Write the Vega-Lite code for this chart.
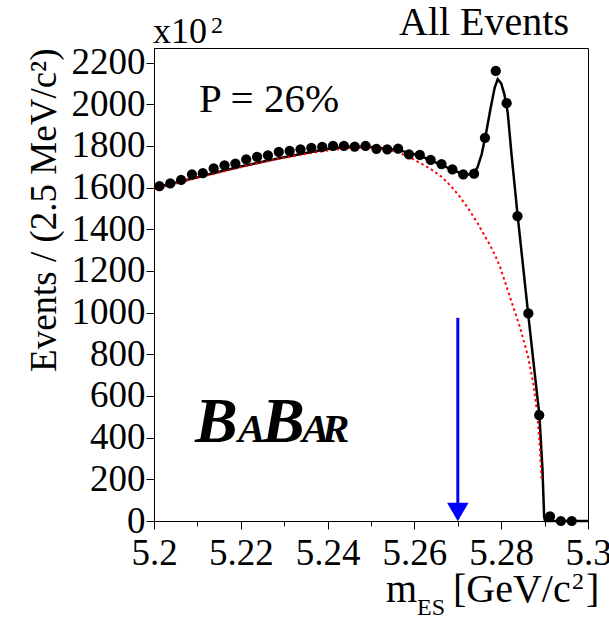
{
  "$schema": "https://vega.github.io/schema/vega-lite/v6.json",
  "width": 434,
  "height": 473,
  "autosize": {"type": "none"},
  "padding": {"left": 154, "top": 48, "right": 21, "bottom": 105},
  "background": "white",
  "config": {"view": {"stroke": "black", "strokeWidth": 1}, "font": "Liberation Serif"},
  "datasets": {
    "points": [
      {"x": 5.20125, "y": 1607}, {"x": 5.20375, "y": 1620}, {"x": 5.20625, "y": 1637}, {"x": 5.20875, "y": 1663},
      {"x": 5.21125, "y": 1669}, {"x": 5.21375, "y": 1692}, {"x": 5.21625, "y": 1707}, {"x": 5.21875, "y": 1715},
      {"x": 5.22125, "y": 1735}, {"x": 5.22375, "y": 1747}, {"x": 5.22625, "y": 1755}, {"x": 5.22875, "y": 1771},
      {"x": 5.23125, "y": 1776}, {"x": 5.23375, "y": 1784}, {"x": 5.23625, "y": 1791}, {"x": 5.23875, "y": 1795},
      {"x": 5.24125, "y": 1800}, {"x": 5.24375, "y": 1800}, {"x": 5.24625, "y": 1797}, {"x": 5.24875, "y": 1800},
      {"x": 5.25125, "y": 1786}, {"x": 5.25375, "y": 1784}, {"x": 5.25625, "y": 1787}, {"x": 5.25875, "y": 1760},
      {"x": 5.26125, "y": 1757}, {"x": 5.26375, "y": 1733}, {"x": 5.26625, "y": 1713}, {"x": 5.26875, "y": 1687},
      {"x": 5.27125, "y": 1663}, {"x": 5.27375, "y": 1667}, {"x": 5.27625, "y": 1839}, {"x": 5.27875, "y": 2160},
      {"x": 5.28125, "y": 2005}, {"x": 5.28375, "y": 1463}, {"x": 5.28625, "y": 996}, {"x": 5.28875, "y": 508},
      {"x": 5.29125, "y": 22}, {"x": 5.29375, "y": 0}, {"x": 5.29625, "y": 0}
    ],
    "fit": [
      {"x": 5.2, "y": 1600}, {"x": 5.205, "y": 1624}, {"x": 5.21, "y": 1650}, {"x": 5.215, "y": 1676},
      {"x": 5.22, "y": 1701}, {"x": 5.225, "y": 1724}, {"x": 5.23, "y": 1746}, {"x": 5.235, "y": 1766},
      {"x": 5.24, "y": 1785}, {"x": 5.245, "y": 1796}, {"x": 5.25, "y": 1795}, {"x": 5.255, "y": 1783},
      {"x": 5.2575, "y": 1774}, {"x": 5.26, "y": 1760}, {"x": 5.2625, "y": 1742}, {"x": 5.265, "y": 1720},
      {"x": 5.2675, "y": 1697}, {"x": 5.27, "y": 1675}, {"x": 5.2715, "y": 1664}, {"x": 5.2725, "y": 1663},
      {"x": 5.2735, "y": 1670}, {"x": 5.2745, "y": 1695}, {"x": 5.2755, "y": 1760}, {"x": 5.2765, "y": 1860},
      {"x": 5.2775, "y": 1975}, {"x": 5.2785, "y": 2080}, {"x": 5.2792, "y": 2120}, {"x": 5.28, "y": 2100},
      {"x": 5.2807, "y": 2050}, {"x": 5.2815, "y": 1960}, {"x": 5.2824, "y": 1755}, {"x": 5.2838, "y": 1463},
      {"x": 5.285, "y": 1230}, {"x": 5.2862, "y": 996}, {"x": 5.2875, "y": 750}, {"x": 5.2888, "y": 508},
      {"x": 5.2895, "y": 250}, {"x": 5.2899, "y": 20}, {"x": 5.2901, "y": 0}, {"x": 5.3, "y": 0}
    ],
    "bkg": [
      {"x": 5.2, "y": 1592}, {"x": 5.205, "y": 1620}, {"x": 5.21, "y": 1647}, {"x": 5.215, "y": 1672},
      {"x": 5.22, "y": 1698}, {"x": 5.225, "y": 1722}, {"x": 5.23, "y": 1743}, {"x": 5.235, "y": 1762},
      {"x": 5.24, "y": 1778}, {"x": 5.245, "y": 1790}, {"x": 5.2475, "y": 1793}, {"x": 5.25, "y": 1792},
      {"x": 5.2525, "y": 1786}, {"x": 5.255, "y": 1776}, {"x": 5.2571, "y": 1762}, {"x": 5.259, "y": 1745},
      {"x": 5.2613, "y": 1718}, {"x": 5.2636, "y": 1692}, {"x": 5.2663, "y": 1651}, {"x": 5.2686, "y": 1603},
      {"x": 5.2705, "y": 1555}, {"x": 5.2724, "y": 1500}, {"x": 5.2744, "y": 1435}, {"x": 5.2763, "y": 1364},
      {"x": 5.2774, "y": 1325}, {"x": 5.2786, "y": 1275}, {"x": 5.2797, "y": 1222}, {"x": 5.282, "y": 1076},
      {"x": 5.2843, "y": 932}, {"x": 5.2862, "y": 788}, {"x": 5.2874, "y": 660}, {"x": 5.2883, "y": 517},
      {"x": 5.2889, "y": 356}, {"x": 5.2893, "y": 205}
    ],
    "arrow": [{"x": 5.27, "y": 975, "y2": 55}],
    "arrowhead": [{"x": 5.27, "y": 43}],
    "plabel": [{"x": 5.21037, "y": 1963, "t": "P = 26%"}],
    "x10": [{"x": 5.19977, "y": 2293, "t": "x10"}],
    "big": [
      {"x": 5.29562, "y": 2331, "t": "All Events"},
      {"x": 5.25346, "y": -388, "t": "m"},
      {"x": 5.26889, "y": -388, "t": "[GeV/c"},
      {"x": 5.29954, "y": -388, "t": "]"}
    ],
    "small": [
      {"x": 5.21313, "y": 2340, "t": "2"},
      {"x": 5.2606, "y": -451, "t": "ES"},
      {"x": 5.29631, "y": -326, "t": "2"}
    ],
    "babarbig": [{"x": 5.20945, "y": 379, "t": "B"}, {"x": 5.22488, "y": 379, "t": "B"}],
    "babarsmall": [{"x": 5.21935, "y": 379, "t": "A"}, {"x": 5.2341, "y": 379, "t": "A"}, {"x": 5.23871, "y": 379, "t": "R"}]
  },
  "layer": [
    {
      "data": {"name": "fit"},
      "mark": {"type": "line", "color": "black", "strokeWidth": 2.5},
      "encoding": {
        "x": {
          "field": "x", "type": "quantitative",
          "scale": {"domain": [5.2, 5.3], "nice": false, "zero": false},
          "axis": {
            "values": [5.2, 5.205, 5.21, 5.215, 5.22, 5.225, 5.23, 5.235, 5.24, 5.245, 5.25, 5.255, 5.26, 5.265, 5.27, 5.275, 5.28, 5.285, 5.29, 5.295, 5.3],
            "format": ".2~f",
            "labelExpr": "abs(datum.value*50 - round(datum.value*50)) < 0.001 ? datum.label : ''",
            "tickSize": {"condition": {"test": "abs(datum.value*50 - round(datum.value*50)) < 0.001", "value": 8}, "value": 5},
            "labelFont": "Liberation Serif", "labelFontSize": 37, "labelColor": "black",
            "labelPadding": 6, "labelFlush": false, "labelOverlap": false,
            "domainColor": "black", "tickColor": "black", "grid": false, "title": null
          }
        },
        "y": {
          "field": "y", "type": "quantitative",
          "scale": {"domain": [0, 2270], "nice": false},
          "axis": {
            "values": [0, 50, 100, 150, 200, 250, 300, 350, 400, 450, 500, 550, 600, 650, 700, 750, 800, 850, 900, 950, 1000, 1050, 1100, 1150, 1200, 1250, 1300, 1350, 1400, 1450, 1500, 1550, 1600, 1650, 1700, 1750, 1800, 1850, 1900, 1950, 2000, 2050, 2100, 2150, 2200, 2250],
            "format": "d",
            "labelExpr": "datum.value % 200 === 0 ? datum.label : ''",
            "tickSize": {"condition": {"test": "datum.value % 200 === 0", "value": 8}, "value": 5},
            "labelFont": "Liberation Serif", "labelFontSize": 37, "labelColor": "black",
            "labelPadding": 1, "labelFlush": false, "labelOverlap": false,
            "domainColor": "black", "tickColor": "black", "grid": false,
            "title": "Events / (2.5 MeV/c²)",
            "titleFont": "Liberation Serif", "titleFontSize": 37, "titleFontWeight": "normal",
            "titleColor": "black", "titleAnchor": "end", "titlePadding": 8
          }
        }
      }
    },
    {
      "data": {"name": "bkg"},
      "mark": {"type": "line", "color": "#ff0000", "strokeWidth": 2, "strokeDash": [2.5, 3]},
      "encoding": {"x": {"field": "x", "type": "quantitative"}, "y": {"field": "y", "type": "quantitative"}}
    },
    {
      "data": {"name": "points"},
      "mark": {"type": "point", "shape": "circle", "filled": true, "color": "black", "opacity": 1, "size": 105},
      "encoding": {"x": {"field": "x", "type": "quantitative"}, "y": {"field": "y", "type": "quantitative"}}
    },
    {
      "data": {"name": "arrow"},
      "mark": {"type": "rule", "color": "#0000ff", "strokeWidth": 3},
      "encoding": {"x": {"field": "x", "type": "quantitative"}, "y": {"field": "y", "type": "quantitative"}, "y2": {"field": "y2"}}
    },
    {
      "data": {"name": "arrowhead"},
      "mark": {"type": "point", "shape": "triangle-down", "filled": true, "color": "#0000ff", "opacity": 1, "size": 460},
      "encoding": {"x": {"field": "x", "type": "quantitative"}, "y": {"field": "y", "type": "quantitative"}}
    },
    {
      "data": {"name": "plabel"},
      "mark": {"type": "text", "font": "Liberation Serif", "fontSize": 41, "align": "left", "baseline": "alphabetic", "color": "black"},
      "encoding": {"x": {"field": "x", "type": "quantitative"}, "y": {"field": "y", "type": "quantitative"}, "text": {"field": "t"}}
    },
    {
      "data": {"name": "x10"},
      "mark": {"type": "text", "font": "Liberation Serif", "fontSize": 36, "align": "left", "baseline": "alphabetic", "color": "black"},
      "encoding": {"x": {"field": "x", "type": "quantitative"}, "y": {"field": "y", "type": "quantitative"}, "text": {"field": "t"}}
    },
    {
      "data": {"name": "big"},
      "mark": {"type": "text", "font": "Liberation Serif", "fontSize": 40, "align": {"expr": "datum.t === 'All Events' ? 'right' : 'left'"}, "baseline": "alphabetic", "color": "black"},
      "encoding": {"x": {"field": "x", "type": "quantitative"}, "y": {"field": "y", "type": "quantitative"}, "text": {"field": "t"}}
    },
    {
      "data": {"name": "small"},
      "mark": {"type": "text", "font": "Liberation Serif", "fontSize": 24, "align": "left", "baseline": "alphabetic", "color": "black"},
      "encoding": {"x": {"field": "x", "type": "quantitative"}, "y": {"field": "y", "type": "quantitative"}, "text": {"field": "t"}}
    },
    {
      "data": {"name": "babarbig"},
      "mark": {"type": "text", "font": "Liberation Serif", "fontSize": 64, "fontWeight": "bold", "fontStyle": "italic", "align": "left", "baseline": "alphabetic", "color": "black"},
      "encoding": {"x": {"field": "x", "type": "quantitative"}, "y": {"field": "y", "type": "quantitative"}, "text": {"field": "t"}}
    },
    {
      "data": {"name": "babarsmall"},
      "mark": {"type": "text", "font": "Liberation Serif", "fontSize": 41, "fontWeight": "bold", "fontStyle": "italic", "align": "left", "baseline": "alphabetic", "color": "black"},
      "encoding": {"x": {"field": "x", "type": "quantitative"}, "y": {"field": "y", "type": "quantitative"}, "text": {"field": "t"}}
    }
  ]
}
